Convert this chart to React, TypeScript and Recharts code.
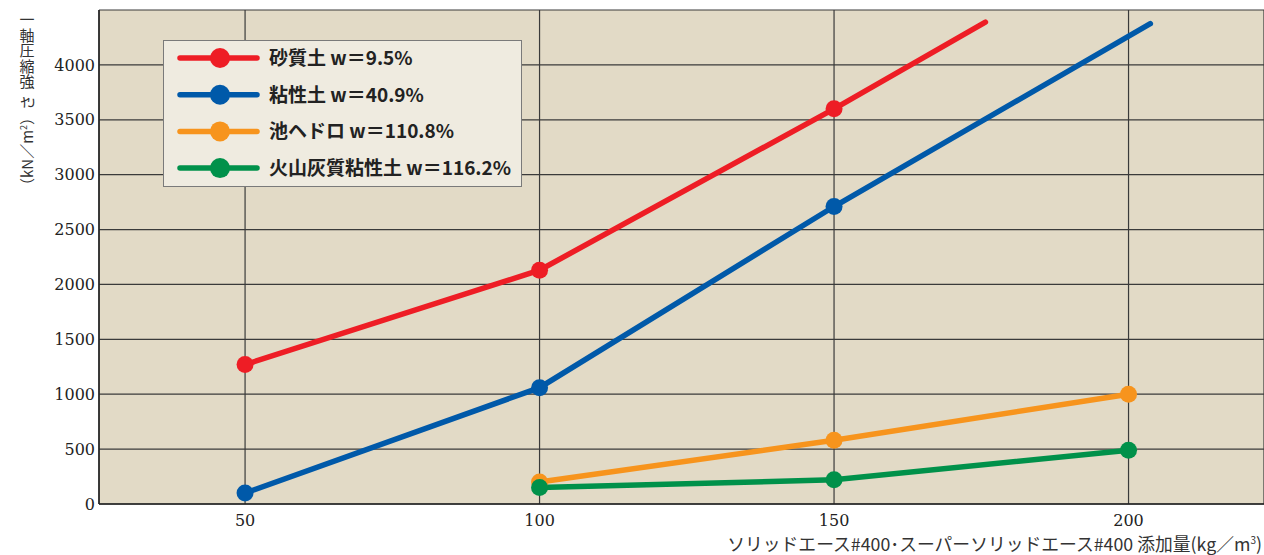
import React from "react";
import { LineChart, Line, XAxis, YAxis, CartesianGrid } from "recharts";

// additive amount (kg/m3) where a sample was measured
const amounts = [50, 100, 150, 200];
const yTicks = [0, 500, 1000, 1500, 2000, 2500, 3000, 3500, 4000, 4500];

// unconfined compressive strength (kN/m2); last x of sand/clay is where the drawn line stops
const sandX = [50, 100, 150, 175.7];
const sandY = [1270, 2130, 3600, 4390];
const clayX = [50, 100, 150, 203.7];
const clayY = [100, 1060, 2710, 4375];
const mudX = [100, 150, 200];
const mudY = [200, 580, 1000];
const volcanicX = [100, 150, 200];
const volcanicY = [150, 220, 490];

const seriesNames = [
  "砂質土 w＝9.5%",
  "粘性土 w＝40.9%",
  "池ヘドロ w＝110.8%",
  "火山灰質粘性土 w＝116.2%",
];
const seriesColors = ["#ee1d25", "#0059a9", "#f7941d", "#00914a"];

const toRows = (xs: number[], ys: number[]) => xs.map((x, i) => ({ x, y: ys[i] }));

const series = [
  { name: seriesNames[0], color: seriesColors[0], data: toRows(sandX, sandY) },
  { name: seriesNames[1], color: seriesColors[1], data: toRows(clayX, clayY) },
  { name: seriesNames[2], color: seriesColors[2], data: toRows(mudX, mudY) },
  { name: seriesNames[3], color: seriesColors[3], data: toRows(volcanicX, volcanicY) },
];

const cjk = "'Noto Sans CJK JP', 'Noto Sans', sans-serif";
const serif = "'DejaVu Serif', 'Liberation Serif', serif";

const makeDot = (color: string) => (props: any) => {
  const { cx, cy, payload, index } = props;
  if (!amounts.includes(payload.x)) return <g key={`d${index}`} />;
  return <circle key={`d${index}`} cx={cx} cy={cy} r={8.5} fill={color} />;
};

const Overlay = () => (
  <svg
    width={1264}
    height={555}
    style={{ position: "absolute", left: 0, top: 0, pointerEvents: "none" }}
  >
    {/* y axis title: upright part, then the sideways unit */}
    <text
      x={27}
      y={12}
      fontSize={15}
      fontFamily={cjk}
      fill="#333"
      style={{ writingMode: "vertical-rl", letterSpacing: 0.5 }}
    >
      一軸圧縮強
    </text>
    <text transform="translate(33,193) rotate(-90)" fontSize={15} fontFamily={cjk} fill="#333">
      （kN／m<tspan fontSize={9} dy={-6}>2</tspan>
      <tspan dy={6}>）さ</tspan>
    </text>

    {/* x axis title */}
    <text x={1262} y={551} textAnchor="end" fontSize={17.8} fontFamily={cjk} fill="#333">
      ソリッドエース#400･スーパーソリッドエース#400 添加量(kg／m<tspan fontSize={10} dy={-7}>3</tspan>
      <tspan dy={7}>)</tspan>
    </text>

    {/* legend */}
    <rect x={163.5} y={40.5} width={358} height={146} fill="#efebe0" stroke="#7a7a7a" strokeWidth={1} />
    {series.map((s, i) => {
      const cy = 58 + i * 36.7;
      return (
        <g key={s.name}>
          <line x1={180} x2={257} y1={cy} y2={cy} stroke={s.color} strokeWidth={5.5} strokeLinecap="round" />
          <circle cx={220} cy={cy} r={10} fill={s.color} />
          <text x={269} y={cy + 7} fontSize={19} fontFamily={cjk} fontWeight={700} fill="#222">
            {s.name}
          </text>
        </g>
      );
    })}
  </svg>
);

export default function App() {
  return (
    <div style={{ position: "absolute", left: 0, top: 0, width: 1264, height: 555, background: "#fff" }}>
      <LineChart width={1264} height={555} margin={{ top: 10, right: 0, bottom: 0, left: 0 }}>
        <CartesianGrid fill="#e2dac6" stroke="#3a3a3a" strokeWidth={1.2} />
        <XAxis
          type="number"
          dataKey="x"
          domain={[25.2, 223]}
          ticks={amounts}
          height={51}
          allowDataOverflow
          tickLine={false}
          tickSize={0}
          tickMargin={11}
          axisLine={{ stroke: "#222", strokeWidth: 1.5 }}
          tick={{ fill: "#222", fontSize: 16, fontFamily: serif }}
        />
        <YAxis
          type="number"
          domain={[0, 4500]}
          ticks={yTicks}
          width={99}
          tickLine={false}
          tickSize={0}
          tickMargin={4}
          axisLine={{ stroke: "#222", strokeWidth: 1.5 }}
          tickFormatter={(v: number) => (v === 4500 ? "" : String(v))}
          tick={{ fill: "#222", fontSize: 16, fontFamily: serif }}
        />
        {series.map((s) => (
          <Line
            key={s.name}
            data={s.data}
            dataKey="y"
            name={s.name}
            type="linear"
            stroke={s.color}
            strokeWidth={5.5}
            strokeLinecap="round"
            dot={makeDot(s.color)}
            activeDot={false}
            isAnimationActive={false}
          />
        ))}
      </LineChart>
      <Overlay />
    </div>
  );
}
